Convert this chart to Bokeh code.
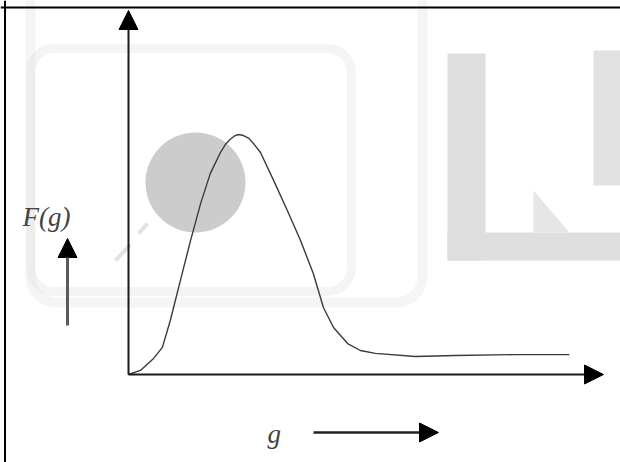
from bokeh.plotting import figure
from bokeh.models import Range1d, Arrow, NormalHead, Label, BoxAnnotation, Span
from bokeh.embed import file_html
from bokeh.resources import INLINE

# ---- data (g, F(g)) ----
g_vals = [0, 0.27, 0.57, 0.77, 0.95, 1.18, 1.41, 1.64, 1.86, 2.09, 2.2, 2.32, 2.41, 2.5,
          2.59, 2.73, 2.86, 3.0, 3.3, 3.61, 3.91, 4.2, 4.43, 4.66, 4.98, 5.27, 5.61,
          6.52, 7.43, 8.77, 10.02]
F_vals = [0, 0.17, 0.67, 1.13, 2.25, 3.92, 5.58, 7.13, 8.38, 9.25, 9.58, 9.81, 9.94, 10.0,
          9.97, 9.85, 9.58, 9.25, 8.08, 6.83, 5.58, 4.21, 2.79, 1.96, 1.29, 1.0, 0.88,
          0.75, 0.79, 0.83, 0.83]
x_label = "g"
y_label = "F(g)"

# ---- layout helpers: figure pixel -> data units ----
OX, OY, SX, SY = 128, 374, 44.0, 24.0
def gx(px):
    return (px - OX) / SX
def fy(py):
    return (OY - py) / SY

W, H = 620, 462
p = figure(width=W, height=H, output_backend="svg", toolbar_location=None,
           x_range=Range1d(gx(0), gx(W)), y_range=Range1d(fy(H), fy(0)),
           x_axis_location=None, y_axis_location=None,
           min_border=0, min_border_left=0, min_border_right=0,
           min_border_top=0, min_border_bottom=0)
p.outline_line_color = None
p.grid.visible = False
p.background_fill_color = "white"
p.border_fill_color = "white"

# ---- faint watermark ----
p.add_layout(BoxAnnotation(left=gx(30), right=gx(422), top=fy(-40), bottom=fy(302),
                           fill_color=None, line_color="#dddddd", line_width=10,
                           border_radius=26, level="underlay"))
p.add_layout(BoxAnnotation(left=gx(30), right=gx(351), top=fy(48), bottom=fy(291),
                           fill_color=None, line_color="#d9d9d9", line_width=9,
                           border_radius=24, level="underlay"))
p.quad(left=[gx(447), gx(447), gx(593)], right=[gx(485), gx(620), gx(620)],
       top=[fy(53), fy(232), fy(50)], bottom=[fy(260), fy(260), fy(185)],
       fill_color=["#dedede", "#dedede", "#e2e2e2"], line_color=None)
p.patch(x=[gx(533), gx(533), gx(569)], y=[fy(190), fy(232), fy(232)],
        fill_color="#e6e6e6", line_color=None)
p.scatter(x=[gx(195)], y=[fy(182)], size=100, marker="circle",
          fill_color="#cccccc", line_color=None)
p.segment(x0=[gx(115), gx(138)], y0=[fy(260), fy(233)], x1=[gx(130), gx(147)], y1=[fy(244), fy(223)],
          line_color="#e2e2e2", line_width=4)

# ---- frame border of the scanned figure ----
p.add_layout(Span(location=gx(4.5), dimension="height", line_color="black", line_width=2))
p.add_layout(Span(location=fy(7), dimension="width", line_color="black", line_width=2))

# ---- curve ----
p.line(g_vals, F_vals, line_color="#3a3a3a", line_width=1.4, line_join="round")

# ---- axes with arrows ----
ax_col = "#1a1a1a"
p.add_layout(Arrow(x_start=0, y_start=0, x_end=0, y_end=fy(10),
                   line_color=ax_col, line_width=2,
                   end=NormalHead(size=19, fill_color="black", line_color="black")))
p.add_layout(Arrow(x_start=0, y_start=0, x_end=gx(603), y_end=0,
                   line_color=ax_col, line_width=2,
                   end=NormalHead(size=19, fill_color="black", line_color="black")))

# ---- side arrows ----
p.add_layout(Arrow(x_start=gx(67), y_start=fy(325), x_end=gx(67), y_end=fy(238),
                   line_color="#5a5a5a", line_width=3,
                   end=NormalHead(size=19, fill_color="black", line_color="black")))
p.add_layout(Arrow(x_start=gx(313), y_start=fy(432), x_end=gx(438), y_end=fy(432),
                   line_color="#222222", line_width=2.5,
                   end=NormalHead(size=19, fill_color="black", line_color="black")))

# ---- labels ----
serif = "'Liberation Serif', 'Times New Roman', serif"
p.add_layout(Label(x=gx(22), y=fy(216), text=y_label, text_font=serif,
                   text_font_style="italic", text_font_size="27px", text_color="#444444",
                   text_baseline="alphabetic", text_align="left"))
p.add_layout(Label(x=gx(267), y=fy(433), text=x_label, text_font=serif,
                   text_font_style="italic", text_font_size="27px", text_color="#444444",
                   text_baseline="alphabetic", text_align="left"))

open("out.html", "w").write(file_html(p, INLINE))
